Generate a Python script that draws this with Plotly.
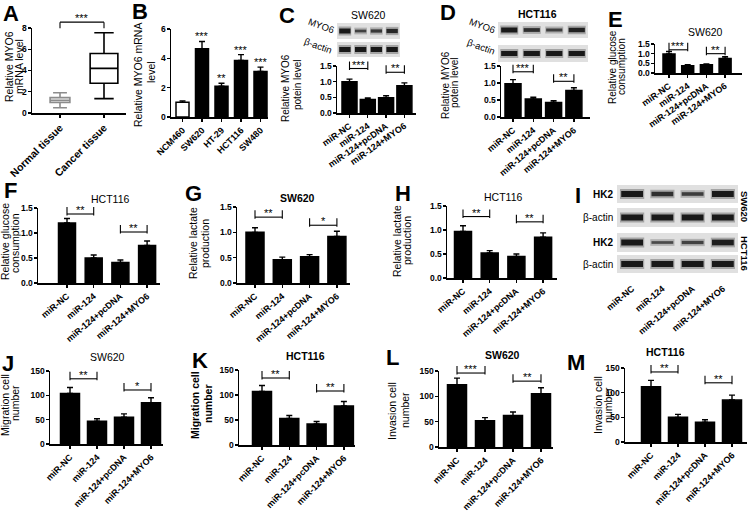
import plotly.graph_objects as go

W, H = 753, 512
FONT = "Liberation Sans, Arial, sans-serif"

# ---------------- data ----------------
groups = ["miR-NC", "miR-124", "miR-124+pcDNA", "miR-124+MYO6"]

A_groups = ["Normal tissue", "Cancer tissue"]
A_lowerfence = [0.5, 1.35]
A_q1 = [1.0, 2.8]
A_median = [1.2, 4.2]
A_q3 = [1.45, 5.6]
A_upperfence = [1.9, 7.55]
A_sig = [(0, 1, 8.55, "***")]

B_cells = ["NCM460", "SW620", "HT-29", "HCT116", "SW480"]
B_mean = [1.0, 4.65, 2.1, 3.85, 3.1]
B_err = [0.1, 0.5, 0.2, 0.4, 0.3]
B_stars = ["", "***", "**", "***", "***"]

C_mean = [1.0, 0.43, 0.49, 0.87]
C_err = [0.08, 0.05, 0.06, 0.09]
C_sig = [(0, 1, 1.42, "***"), (2, 3, 1.3, "**")]

D_mean = [0.98, 0.53, 0.43, 0.78]
D_err = [0.12, 0.05, 0.05, 0.08]
D_sig = [(0, 1, 1.33, "***"), (2, 3, 1.05, "**")]

E_mean = [0.98, 0.38, 0.43, 0.75]
E_err = [0.13, 0.05, 0.04, 0.09]
E_sig = [(0, 1, 1.2, "***"), (2, 3, 1.0, "**")]

F_mean = [1.2, 0.5, 0.41, 0.75]
F_err = [0.09, 0.06, 0.05, 0.09]
F_sig = [(0, 1, 1.38, "**"), (2, 3, 1.02, "**")]

G_mean = [1.0, 0.46, 0.52, 0.92]
G_err = [0.09, 0.05, 0.04, 0.1]
G_sig = [(0, 1, 1.3, "**"), (2, 3, 1.14, "*")]

H_mean = [0.97, 0.52, 0.45, 0.85]
H_err = [0.12, 0.05, 0.05, 0.09]
H_sig = [(0, 1, 1.28, "**"), (2, 3, 1.17, "**")]

J_mean = [104, 47, 55, 85]
J_err = [12, 5, 7, 10]
J_sig = [(0, 1, 134, "**"), (2, 3, 111, "*")]

K_mean = [107, 53, 42, 78]
K_err = [12, 6, 5, 9]
K_sig = [(0, 1, 134, "**"), (2, 3, 108, "**")]

L_mean = [123, 52, 62, 105]
L_err = [13, 6, 7, 12]
L_sig = [(0, 1, 146, "***"), (2, 3, 130, "**")]

M_mean = [112, 50, 40, 85]
M_err = [13, 6, 5, 10]
M_sig = [(0, 1, 142, "**"), (2, 3, 120, "**")]

# western blot band intensities (relative)
C_myo6 = [1.0, 0.55, 0.65, 0.85]
C_actin = [1.0, 1.0, 1.0, 1.0]
D_myo6 = [1.0, 0.75, 0.6, 0.9]
D_actin = [1.0, 1.0, 1.0, 1.0]
I_sw620_hk2 = [1.0, 0.75, 0.6, 1.0]
I_sw620_actin = [1.0, 1.0, 1.0, 1.0]
I_hct116_hk2 = [1.0, 0.45, 0.55, 0.95]
I_hct116_actin = [1.0, 1.0, 1.0, 1.0]

# ---------------- helpers ----------------
traces, annotations, shapes, axes = [], [], [], {}
counter = [0]


def new_axes(x0, x1, ytop, ybot, xr, yr, visible=True):
    counter[0] += 1
    s = "" if counter[0] == 1 else str(counter[0])
    axes["xaxis" + s] = dict(domain=[x0 / W, x1 / W], anchor="y" + s, range=xr, automargin=False,
                             showgrid=False, zeroline=False, fixedrange=True, visible=visible)
    axes["yaxis" + s] = dict(domain=[1 - ybot / H, 1 - ytop / H], anchor="x" + s, range=yr,
                             automargin=False,
                             showgrid=False, zeroline=False, fixedrange=True, visible=visible)
    return "x" + s, "y" + s, s


def ann(text, x, y, size=11, bold=False, angle=0, xanchor="center", yanchor="middle"):
    annotations.append(dict(text=("<b>%s</b>" % text) if bold else text, x=x / W, y=1 - y / H,
                            xref="paper", yref="paper", showarrow=False, textangle=angle,
                            font=dict(family=FONT, size=size, color="black"),
                            xanchor=xanchor, yanchor=yanchor))


def ylab(lines, xs, ys, size=10, bold=False):
    for t, x, y in zip(lines, xs, ys):
        ann(t, x, y, size=size, bold=bold, angle=-90)


def style_axes(s, cats, tickangle, yticks, yfmt, tick_size=9):
    axes["xaxis" + s].update(showline=True, linecolor="black", linewidth=1.5,
                             ticks="outside", ticklen=3, tickwidth=1.3, tickcolor="black",
                             tickmode="array", tickvals=list(range(len(cats))),
                             ticktext=["<b>%s</b>" % c for c in cats], tickangle=tickangle,
                             tickfont=dict(family=FONT, size=tick_size, color="black"))
    axes["yaxis" + s].update(showline=True, linecolor="black", linewidth=1.5,
                             ticks="outside", ticklen=3, tickwidth=1.3, tickcolor="black",
                             ticklabelstandoff=-1,
                             tickmode="array", tickvals=yticks,
                             ticktext=["<b>%s</b>" % (yfmt % v) for v in yticks],
                             tickfont=dict(family=FONT, size=8.5, color="black"))


def overlay(g, ymax, xr, sig, extra_px=22, up_px=7, down_px=1.5):
    yx, xend, c0, step, top, bottom, bw = g
    ppu = (bottom - top) / ymax
    ytop2 = top - extra_px
    ymax2 = (bottom - ytop2) / ppu
    xa, ya, s = new_axes(yx, xend, ytop2, bottom, xr, [0, ymax2], visible=False)
    for (i, j, h, lab) in sig:
        up, dn = up_px / ppu, down_px / ppu
        traces.append(go.Scatter(x=[i, i, None, i, j, None, j, j],
                                 y=[h - dn, h + up, None, h, h, None, h - dn, h + up],
                                 mode="lines", line=dict(color="black", width=1.1),
                                 xaxis=xa, yaxis=ya, hoverinfo="skip", showlegend=False))
        annotations.append(dict(text=lab, x=(i + j) / 2, y=h, xref=xa, yref=ya, showarrow=False,
                                yanchor="bottom", yshift=-4,
                                font=dict(family=FONT, size=11, color="black")))
    return xa, ya


def bar_panel(cats, mean, err, sig, g, ymax, dtick, yfmt, tickangle, colors=None, tick_size=9):
    yx, xend, c0, step, top, bottom, bw = g
    xr = [(yx - c0) / step, (xend - c0) / step]
    xa, ya, s = new_axes(yx, xend, top, bottom, xr, [0, ymax])
    n = len(cats)
    yticks = [round(k * dtick, 3) for k in range(int(round(ymax / dtick)) + 1)]
    style_axes(s, cats, tickangle, yticks, yfmt, tick_size)
    traces.append(go.Bar(x=list(range(n)), y=mean, width=bw / step,
                         marker=dict(color=colors or ["black"] * n, line=dict(color="black", width=1.5)),
                         error_y=dict(type="data", array=err, arrayminus=[0] * n, symmetric=False,
                                      color="black", thickness=1.4, width=3),
                         xaxis=xa, yaxis=ya, hoverinfo="skip", showlegend=False))
    return overlay(g, ymax, xr, sig)


def blot_row(x0, x1, ytop, ybot, intens, thick):
    xa, ya, s = new_axes(x0, x1, ytop, ybot, [-0.5, len(intens) - 0.5], [-1, 1], visible=False)
    shapes.append(dict(type="rect", xref=xa + " domain", yref=ya + " domain", x0=0, x1=1, y0=0, y1=1,
                       fillcolor="#e0e0e0", line=dict(width=0), layer="below"))
    for i, v in enumerate(intens):
        g = int(25 + (1 - v) * 90)
        traces.append(go.Scatter(x=[i - 0.4, i + 0.4], y=[0, 0], mode="lines",
                                 line=dict(color="rgba(%d,%d,%d,0.3)" % (g, g, g), width=thick * v + 4),
                                 xaxis=xa, yaxis=ya, hoverinfo="skip", showlegend=False))
        traces.append(go.Scatter(x=[i - 0.36, i + 0.36], y=[0, 0], mode="lines",
                                 line=dict(color="rgb(%d,%d,%d)" % (g, g, g), width=thick * v),
                                 xaxis=xa, yaxis=ya, hoverinfo="skip", showlegend=False))
    return xa, ya, s


# ---------------- panel A (box plot) ----------------
gA = (32, 126, 60, 44, 28, 113, 24)
xrA = [(gA[0] - gA[2]) / gA[3], (gA[1] - gA[2]) / gA[3]]
xa, ya, s = new_axes(gA[0], gA[1], gA[4], gA[5], xrA, [0, 8])
style_axes(s, A_groups, -45, [0, 2, 4, 6, 8], "%d", tick_size=10.5)
A_colors = ["#8c8c8c", "black"]
A_widths = [0.45, 0.63]
for k in range(2):
    traces.append(go.Box(x=[k], q1=[A_q1[k]], median=[A_median[k]], q3=[A_q3[k]],
                         lowerfence=[A_lowerfence[k]], upperfence=[A_upperfence[k]],
                         width=A_widths[k], whiskerwidth=0.7, fillcolor="white",
                         line=dict(color=A_colors[k], width=1.6), boxpoints=False,
                         xaxis=xa, yaxis=ya, hoverinfo="skip", showlegend=False))
overlay(gA, 8, xrA, A_sig, up_px=0, down_px=6)
ylab(["Relative MYO6", "mRNA level"], [9, 19], [67, 67], size=10.5)
ann("A", 11, 13, size=22, bold=True)

# ---------------- panel B ----------------
gB = (171, 268, 182.5, 19.5, 29, 117, 13)
xa, ya = bar_panel(B_cells, B_mean, B_err, [], gB, 6, 2, "%d", -45,
                   colors=["white"] + ["black"] * 4, tick_size=9)
for k in range(len(B_cells)):
    if B_stars[k]:
        annotations.append(dict(text=B_stars[k], x=k, y=B_mean[k] + B_err[k], xref=xa, yref=ya,
                                showarrow=False, yanchor="bottom", yshift=-3,
                                font=dict(family=FONT, size=11, color="black")))
ylab(["Relative MYO6 mRNA", "level"], [138, 151], [75, 72], size=10.5)
ann("B", 140, 11, size=22, bold=True)

# ---------------- panel C ----------------
gC = (337, 416, 349.5, 18.3, 66, 113, 15)
bar_panel(groups, C_mean, C_err, C_sig, gC, 1.5, 0.5, "%.1f", -35)
blot_row(337, 400, 23, 39, C_myo6, 5)
blot_row(337, 400, 42, 57, C_actin, 5)
ann("SW620", 368, 15, size=10.5)
ann("MYO6", 321, 25, size=9.5, angle=20)
ann("β-actin", 318, 45, size=9.5, angle=20)
ylab(["Relative MYO6", "potein level"], [285, 297], [88, 85], size=10)
ann("C", 287, 15, size=22, bold=True)

# ---------------- panel D ----------------
gD = (501, 590, 513, 20.3, 66, 117, 16)
bar_panel(groups, D_mean, D_err, D_sig, gD, 1.5, 0.5, "%.1f", -40)
blot_row(498, 588, 22, 38, D_myo6, 5)
blot_row(498, 588, 45, 62, D_actin, 5)
ann("<b>HCT116</b>", 537, 14, size=10.5)
ann("MYO6", 482, 25, size=9.5, angle=20)
ann("β-actin", 481, 46, size=9.5, angle=20)
ylab(["Relative MYO6", "potein level"], [445, 454], [85, 83], size=10)
ann("D", 448, 12, size=22, bold=True)

# ---------------- panel E ----------------
gE = (655, 742, 669, 18.7, 44, 73, 12)
bar_panel(groups, E_mean, E_err, E_sig, gE, 1.5, 0.5, "%.1f", -35)
ann("SW620", 705, 32, size=10.5)
ylab(["Relative glucose", "consumption"], [612, 621], [67, 67], size=10)
ann("E", 615, 19, size=22, bold=True)

# ---------------- panel F ----------------
gF = (38, 160, 67, 26.7, 208, 283, 17)
bar_panel(groups, F_mean, F_err, F_sig, gF, 1.5, 0.5, "%.1f", -40)
ann("HCT116", 110, 199, size=10.5)
ylab(["Relative glucose", "consumption"], [5, 15], [242, 243], size=10.5)
ann("F", 10, 190, size=22, bold=True)

# ---------------- panel G ----------------
gG = (237, 350, 255, 27.3, 207, 283, 18)
bar_panel(groups, G_mean, G_err, G_sig, gG, 1.5, 0.5, "%.1f", -40)
ann("<b>SW620</b>", 297, 198, size=10.5)
ylab(["Relative lactate", "production"], [193, 205], [243, 243], size=10.5)
ann("G", 193, 193, size=22, bold=True)

# ---------------- panel H ----------------
gH = (447, 557, 463, 26.7, 206, 278, 17)
bar_panel(groups, H_mean, H_err, H_sig, gH, 1.5, 0.5, "%.1f", -40)
ann("HCT116", 503, 197, size=10.5)
ylab(["Relative lactate", "production"], [397, 407], [241, 241], size=10.5)
ann("H", 403, 193, size=22, bold=True)

# ---------------- panel I (blots) ----------------
blot_row(617, 738, 185, 203, I_sw620_hk2, 6)
blot_row(617, 738, 208, 227, I_sw620_actin, 6)
blot_row(617, 738, 233, 252, I_hct116_hk2, 6)
xa, ya, s = blot_row(617, 738, 255, 273, I_hct116_actin, 6)
axes["xaxis" + s].update(visible=True, showline=False, ticks="outside", ticklen=6,
                         tickcolor="rgba(0,0,0,0)", tickmode="array", tickvals=list(range(4)),
                         ticktext=["<b>%s</b>" % c for c in groups], tickangle=-40,
                         tickfont=dict(family=FONT, size=9, color="black"))
axes["yaxis" + s].update(visible=False)
ann("<b>HK2</b>", 615, 194, size=10, xanchor="right")
ann("β-actin", 615, 217, size=10, xanchor="right")
ann("<b>HK2</b>", 615, 242, size=10, xanchor="right")
ann("β-actin", 615, 264, size=10, xanchor="right")
ann("<b>SW620</b>", 745, 206, size=9.5, angle=90)
ann("<b>HCT116</b>", 745, 253, size=9.5, angle=90)
ann("I", 578, 195, size=22, bold=True)

# ---------------- panels J-M ----------------
gJ = (50, 163, 70, 27, 371, 444, 19)
bar_panel(groups, J_mean, J_err, J_sig, gJ, 150, 50, "%d", -45)
ann("SW620", 107, 357, size=10.5)
ylab(["Migration cell", "number"], [5, 15], [405, 403], size=10.5)
ann("J", 8, 363, size=22, bold=True)

gK = (239, 355, 262, 27.3, 370, 445, 19)
bar_panel(groups, K_mean, K_err, K_sig, gK, 150, 50, "%d", -45)
ann("<b>HCT116</b>", 305, 356, size=10.5)
ylab(["Migration cell", "number"], [195, 208], [405, 403], size=10.5, bold=True)
ann("K", 200, 360, size=22, bold=True)

gL = (439, 553, 457, 28, 371, 447, 19)
bar_panel(groups, L_mean, L_err, L_sig, gL, 150, 50, "%d", -45)
ann("<b>SW620</b>", 502, 355, size=10.5)
ylab(["Invasion cell", "number"], [392, 405], [411, 410], size=10.5)
ann("L", 392, 357, size=22, bold=True)

gM = (625, 747, 651, 27, 368, 442, 19)
bar_panel(groups, M_mean, M_err, M_sig, gM, 150, 50, "%d", -45)
ann("<b>HCT116</b>", 665, 352, size=10.5)
ylab(["Invasion cell", "number"], [598, 608], [405, 405], size=10.5)
ann("M", 576, 362, size=22, bold=True)

fig = go.Figure(data=traces)
fig.update_layout(template="none", width=W, height=H, margin=dict(l=0, r=0, t=0, b=0, pad=0),
                  paper_bgcolor="white", plot_bgcolor="rgba(0,0,0,0)",
                  showlegend=False, annotations=annotations, shapes=shapes,
                  font=dict(family=FONT, color="black"), **axes)
fig.write_html("out.html", config={"displayModeBar": False, "staticPlot": True},
               post_script="document.body.style.margin='0px';document.body.style.overflow='hidden';")
